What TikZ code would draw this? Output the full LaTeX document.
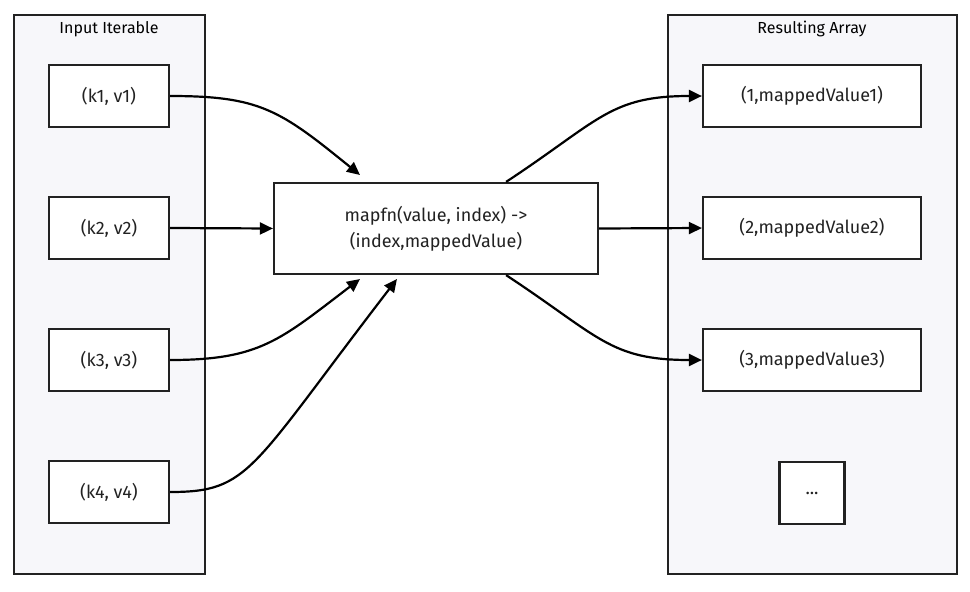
\documentclass[tikz,border=0pt]{standalone}
\usepackage{fontspec}
\setmainfont{Fira Sans}
\usetikzlibrary{arrows.meta}
\definecolor{clusterfill}{HTML}{F7F7FA}
\definecolor{linecol}{HTML}{222222}
\begin{document}
\begin{tikzpicture}[x=1pt,y=-1pt,
  box/.style={draw=linecol, line width=2.2pt, fill=white, minimum height=62pt, font=\fontsize{18}{22}\selectfont, text=linecol, align=center},
  cluster/.style={draw=linecol, line width=2.2pt, fill=clusterfill},
  arr/.style={-{Triangle[length=13pt,width=12pt]}, line width=2.2pt, black}]
  \useasboundingbox (0,0) rectangle (970,592);
  % clusters
  \draw[cluster] (14,15) rectangle (205,574);
  \node[font=\fontsize{16}{19}\selectfont, text=black] (intitle) at (109,29) {Input Iterable};
  \draw[cluster] (668,15) rectangle (957,574);
  \node[font=\fontsize{16}{19}\selectfont, text=black] (outtitle) at (812,29) {Resulting Array};
  % inputs
  \node[box, minimum width=120pt] (k1) at (109,96) {(k1, v1)};
  \node[box, minimum width=120pt] (k2) at (109,228) {(k2, v2)};
  \node[box, minimum width=120pt] (k3) at (109,360) {(k3, v3)};
  \node[box, minimum width=120pt] (k4) at (109,492) {(k4, v4)};
  % map function
  \node[box, minimum width=324pt, minimum height=91pt] (fn) at (436,228.5) {mapfn(value, index) ->\\[4pt](index,mappedValue)};
  % outputs
  \node[box, minimum width=218pt] (r1) at (812,96) {(1,mappedValue1)};
  \node[box, minimum width=218pt] (r2) at (812,228) {(2,mappedValue2)};
  \node[box, minimum width=218pt] (r3) at (812,360) {(3,mappedValue3)};
  \node[box, minimum width=65pt] (r4) at (812,493) {...};
  % edges
  \draw[arr] (k1.east) .. controls (260,96) and (280,110) .. (360,175);
  \draw[arr] (k2.east) -- (fn.west);
  \draw[arr] (k3.east) .. controls (260,360) and (280,340) .. (360,279);
  \draw[arr] (k4.east) .. controls (250,492) and (250,470) .. (397,279);
  \draw[arr] (fn.north east) ++(-93,0) .. controls (600,120) and (610,96) .. (r1.west);
  \draw[arr] (fn.east) -- (r2.west);
  \draw[arr] (fn.south east) ++(-93,0) .. controls (600,337) and (610,360) .. (r3.west);
\end{tikzpicture}
\end{document}
